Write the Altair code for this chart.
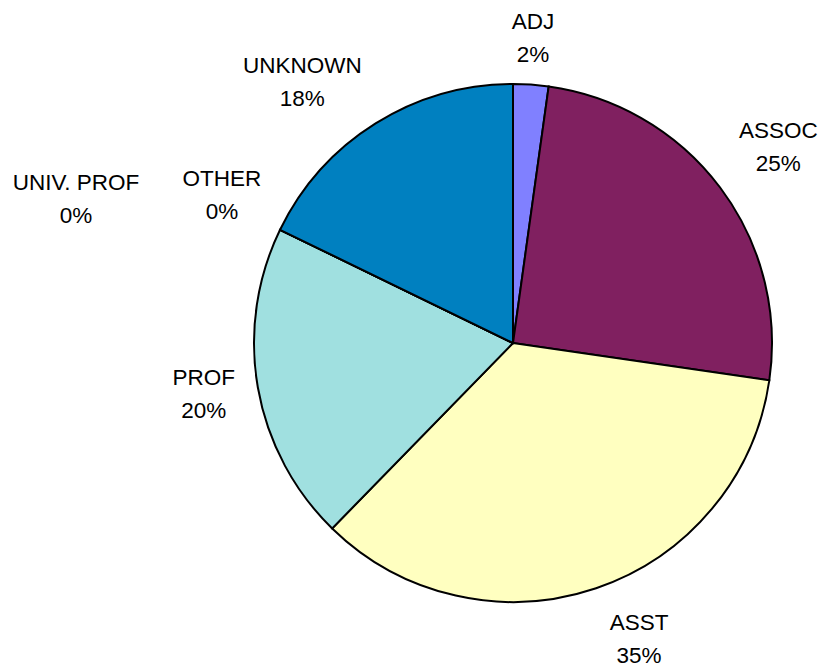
import altair as alt
import pandas as pd

categories = ["ADJ", "ASSOC", "ASST", "PROF", "OTHER", "UNIV. PROF", "UNKNOWN"]
shares = [2.2, 25.1, 35.0, 19.9, 0.0, 0.0, 17.8]
pct_labels = ["2%", "25%", "35%", "20%", "0%", "0%", "18%"]
colors = ["#8080FF", "#802060", "#FFFFC0", "#A0E0E0", "#FFFFFF", "#FFFFFF", "#0080C0"]

df = pd.DataFrame({
    "cat": categories,
    "share": shares,
    "idx": list(range(len(categories))),
    "label": [f"{c}\n{p}" for c, p in zip(categories, pct_labels)],
})

CX, CY = 505, 335

base = alt.Chart(df).encode(
    theta=alt.Theta("share:Q", stack=True, scale=alt.Scale(range=[0, 6.283185307])),
    order=alt.Order("idx:Q"),
)

pie = base.mark_arc(stroke="black", strokeWidth=2, x=CX, y=CY).encode(
    radius=alt.value(259),
    color=alt.Color("cat:N", scale=alt.Scale(domain=categories, range=colors), legend=None),
)

offsets = {
    "ADJ": (-2, -4),
    "ASSOC": (11, -21),
    "ASST": (24, -21),
    "PROF": (4, -20),
    "OTHER": (-5, -25),
    "UNIV. PROF": (-151, -21),
    "UNKNOWN": (-42, -7),
}

layers = [pie]
for c in categories:
    dx, dy = offsets[c]
    layers.append(
        base.mark_text(
            x=CX, y=CY, dx=dx, dy=dy, lineBreak="\n", font="Liberation Sans",
            fontSize=22.5, lineHeight=33, color="black", align="center", baseline="middle",
        ).encode(
            radius=alt.value(318),
            text=alt.condition(alt.datum.cat == c, "label:N", alt.value("")),
        )
    )

chart = alt.layer(*layers).properties(
    width=811, height=658, padding=0, autosize=alt.AutoSizeParams(type="none")
).configure_view(stroke=None)

chart.save("out.html", embed_options={"renderer": "svg", "actions": False})
